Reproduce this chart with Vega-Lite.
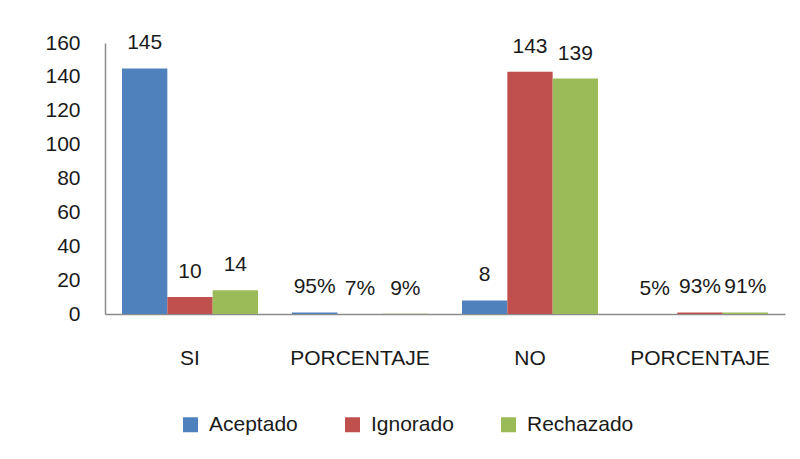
{
  "$schema": "https://vega.github.io/schema/vega-lite/v6.json",
  "width": 680,
  "height": 271,
  "autosize": {"type": "none"},
  "padding": {"left": 105, "top": 43, "right": 15, "bottom": 145},
  "background": "white",
  "config": {
    "view": {"stroke": null},
    "font": "Liberation Sans, sans-serif",
    "text": {"font": "Liberation Sans, sans-serif"}
  },
  "data": {
    "values": [
      {"cat": "SI", "serie": "Aceptado", "valor": 145, "label": "145"},
      {"cat": "SI", "serie": "Ignorado", "valor": 10, "label": "10"},
      {"cat": "SI", "serie": "Rechazado", "valor": 14, "label": "14"},
      {"cat": "PORCENTAJE_1", "serie": "Aceptado", "valor": 0.95, "label": "95%"},
      {"cat": "PORCENTAJE_1", "serie": "Ignorado", "valor": 0.07, "label": "7%"},
      {"cat": "PORCENTAJE_1", "serie": "Rechazado", "valor": 0.09, "label": "9%"},
      {"cat": "NO", "serie": "Aceptado", "valor": 8, "label": "8"},
      {"cat": "NO", "serie": "Ignorado", "valor": 143, "label": "143"},
      {"cat": "NO", "serie": "Rechazado", "valor": 139, "label": "139"},
      {"cat": "PORCENTAJE_2", "serie": "Aceptado", "valor": 0.05, "label": "5%"},
      {"cat": "PORCENTAJE_2", "serie": "Ignorado", "valor": 0.93, "label": "93%"},
      {"cat": "PORCENTAJE_2", "serie": "Rechazado", "valor": 0.91, "label": "91%"}
    ]
  },
  "encoding": {
    "x": {
      "field": "cat",
      "type": "nominal",
      "sort": ["SI", "PORCENTAJE_1", "NO", "PORCENTAJE_2"],
      "scale": {"paddingInner": 0.2, "paddingOuter": 0.1},
      "axis": {
        "title": null,
        "labelAngle": 0,
        "labelExpr": "split(datum.label, '_')[0]",
        "ticks": false,
        "labelPadding": 33,
        "labelFontSize": 21,
        "labelColor": "#1a1a1a",
        "domainColor": "#8c8c8c",
        "domainWidth": 1.5
      }
    },
    "xOffset": {
      "field": "serie",
      "type": "nominal",
      "sort": ["Aceptado", "Ignorado", "Rechazado"]
    },
    "y": {
      "field": "valor",
      "type": "quantitative",
      "scale": {"domain": [0, 160]},
      "axis": {
        "title": null,
        "values": [0, 20, 40, 60, 80, 100, 120, 140, 160],
        "grid": false,
        "ticks": false,
        "labelPadding": 25,
        "labelFontSize": 21,
        "labelColor": "#1a1a1a",
        "domainColor": "#8c8c8c",
        "domainWidth": 1.5
      }
    }
  },
  "layer": [
    {
      "mark": {"type": "bar"},
      "encoding": {
        "color": {
          "field": "serie",
          "type": "nominal",
          "sort": ["Aceptado", "Ignorado", "Rechazado"],
          "scale": {"range": ["#4F81BD", "#C0504D", "#9BBB59"]},
          "legend": {
            "title": null,
            "orient": "none",
            "direction": "horizontal",
            "legendX": 75,
            "legendY": 371,
            "symbolType": "square",
            "symbolSize": 225,
            "symbolStrokeWidth": 0,
            "symbolOpacity": 1,
            "labelFontSize": 21,
            "labelColor": "#1a1a1a",
            "labelOffset": 8,
            "columnPadding": 44
          }
        }
      }
    },
    {
      "mark": {"type": "text", "baseline": "alphabetic", "dy": -19, "fontSize": 21, "color": "#1a1a1a"},
      "encoding": {
        "text": {"field": "label"}
      }
    }
  ]
}
